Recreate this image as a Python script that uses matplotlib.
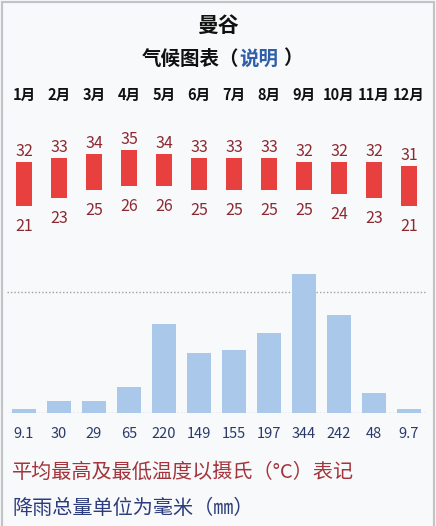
import numpy as np
import matplotlib
matplotlib.use('Agg')
import matplotlib.pyplot as plt
import matplotlib.transforms as mtransforms
from matplotlib.patches import Rectangle

plt.rcParams['font.family'] = ['Noto Sans CJK SC', 'DejaVu Sans']

# data
months = ['1月', '2月', '3月', '4月', '5月', '6月', '7月', '8月', '9月', '10月', '11月', '12月']
t_high = [32, 33, 34, 35, 34, 33, 33, 33, 32, 32, 32, 31]
t_low = [21, 23, 25, 26, 26, 25, 25, 25, 25, 24, 23, 21]
precip = [9.1, 30, 29, 65, 220, 149, 155, 197, 344, 242, 48, 9.7]
precip_labels = ['9.1', '30', '29', '65', '220', '149', '155', '197', '344', '242', '48', '9.7']
precip_ref = 300

W, H = 436, 526
bg = '#f8f9fa'
red = '#e8403f'
red_txt = '#8c2a33'
blue = '#a9c8ea'
blue_txt = '#2b3a6b'

fig = plt.figure(figsize=(W / 100, H / 100), dpi=100, facecolor=bg)


def box(left, top, right, bottom):
    # pixel box (from top-left) -> figure fraction
    return [left / W, 1 - bottom / H, (right - left) / W, (bottom - top) / H]


x = np.arange(len(months))

# temperature bars
ax_t = fig.add_axes(box(6.5, 120, 426.5, 240))
ax_t.set_facecolor('none')
ax_t.bar(x, np.array(t_high) - np.array(t_low), bottom=t_low, width=16 / 35,
         color=red, linewidth=0)
ax_t.set_xlim(-0.5, 11.5)
ax_t.set_ylim(12.5, 42.5)
ax_t.axis('off')
for i in x:
    ax_t.annotate(str(t_high[i]), (i, t_high[i]), xytext=(0, 6), textcoords='offset pixels',
                  ha='center', va='baseline', fontsize=11.5, color=red_txt)
    ax_t.annotate(str(t_low[i]), (i, t_low[i]), xytext=(0, -25), textcoords='offset pixels',
                  ha='center', va='baseline', fontsize=11.5, color=red_txt)

# precipitation bars
ax_p = fig.add_axes(box(6.5, 260, 426.5, 412.7))
ax_p.set_facecolor('none')
ax_p.axhline(precip_ref, color='#a0a0a0', lw=1, ls=(0, (1, 1.5)), zorder=1)
ax_p.axhline(0, color='#a8a8a8', lw=1, ls=(0, (1, 1.5)), zorder=1)
ax_p.bar(x, precip, width=24 / 35, color=blue, linewidth=0, zorder=2)
ax_p.set_xlim(-0.5, 11.5)
ax_p.set_ylim(0, 379)
ax_p.axis('off')
for i in x:
    ax_p.annotate(precip_labels[i], (i, 0), xytext=(0, -25), textcoords='offset pixels',
                  ha='center', va='baseline', fontsize=10.5, color=blue_txt)

# month names
trans = mtransforms.blended_transform_factory(ax_t.transData, fig.transFigure)
for i, m in enumerate(months):
    fig.text(i, 1 - 94.5 / H, m, transform=trans, ha='center', va='center',
             fontsize=10.5, fontweight='bold', color='#111111')

# titles
fig.text(218 / W, 1 - 25 / H, '曼谷', ha='center', va='center', fontsize=15,
         fontweight='bold', color='#111111')
fig.text(239 / W, 1 - 59 / H, '气候图表（', ha='right', va='center', fontsize=14,
         fontweight='bold', color='#111111')
fig.text(239 / W, 1 - 59 / H, '说明', ha='left', va='center', fontsize=14,
         fontweight='bold', color='#2f5fa8')
fig.text(283 / W, 1 - 59 / H, '）', ha='left', va='center', fontsize=14,
         fontweight='bold', color='#111111')

# footer notes
fig.text(12 / W, 1 - 472 / H, '平均最高及最低温度以摄氏（°C）表记', ha='left', va='center',
         fontsize=14.5, color='#a3343c')
fig.text(12 / W, 1 - 509 / H, '降雨总量单位为毫米（㎜）', ha='left', va='center',
         fontsize=14.5, color='#2c3c7c')

# frame
fig.patches.append(Rectangle((1.5 / W, -0.1), (W - 3.5) / W, 1.1 - 1.5 / H,
                             transform=fig.transFigure, fill=False,
                             edgecolor='#c2c4c8', lw=1.6))

fig.savefig('out.png', dpi=100, facecolor=bg)
